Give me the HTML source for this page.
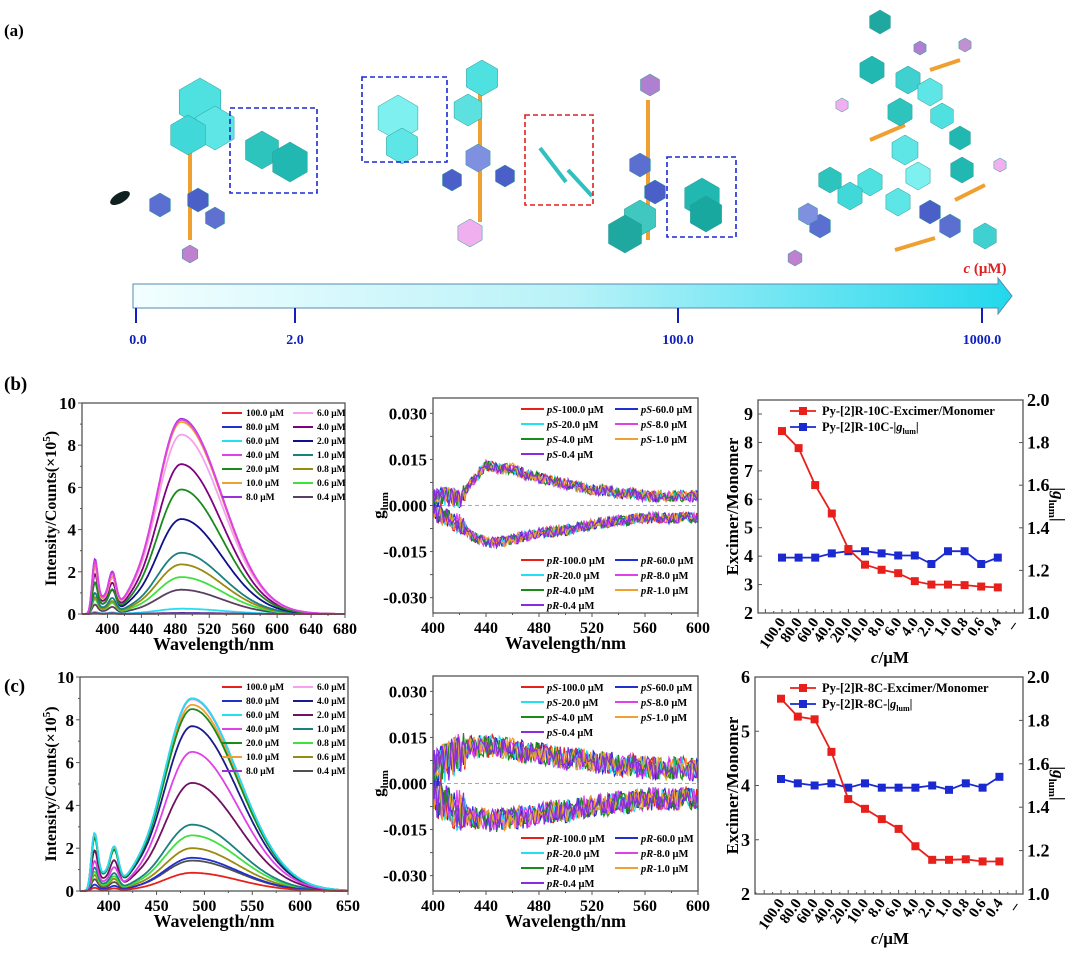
<!DOCTYPE html>
<html><head><meta charset="utf-8"><title>Py-[2]R concentration dependent emission</title>
<style>
html,body{margin:0;padding:0;background:#fff;}
svg{display:block;font-family:"Liberation Serif",serif;font-weight:bold;}
</style></head>
<body>
<svg id="fig" width="1080" height="957" viewBox="0 0 1080 957" xmlns="http://www.w3.org/2000/svg">
<defs>
<linearGradient id="arrowGrad" x1="0" x2="1" y1="0" y2="0">
<stop offset="0" stop-color="#f2feff"/><stop offset="0.5" stop-color="#b8f2f8"/><stop offset="1" stop-color="#22d8ec"/>
</linearGradient>
</defs>
<text x="4" y="36" font-size="17">(a)</text>
<text x="4" y="390" font-size="19">(b)</text>
<text x="4" y="692" font-size="19">(c)</text>
<g id="schem"></g>
<g>
<polygon points="133,284 998,284 998,278 1012,296 998,314 998,308 133,308" fill="url(#arrowGrad)" stroke="#5a8ab0" stroke-width="1"/>
<line x1="136" y1="308" x2="136" y2="323" stroke="#1020c0" stroke-width="2"/>
<line x1="295" y1="308" x2="295" y2="323" stroke="#1020c0" stroke-width="2"/>
<line x1="678" y1="308" x2="678" y2="323" stroke="#1020c0" stroke-width="2"/>
<line x1="982" y1="308" x2="982" y2="323" stroke="#1020c0" stroke-width="2"/>
<text x="138" y="344" text-anchor="middle" fill="#1020c0" font-size="14">0.0</text>
<text x="295" y="344" text-anchor="middle" fill="#1020c0" font-size="14">2.0</text>
<text x="678" y="344" text-anchor="middle" fill="#1020c0" font-size="14">100.0</text>
<text x="982" y="344" text-anchor="middle" fill="#1020c0" font-size="14">1000.0</text>
<text x="985" y="273" text-anchor="middle" fill="#e02020" font-size="15"><tspan font-style="italic">c</tspan> (μM)</text>
</g>
<g id="charts"></g>
</svg>
<script>
// ===== data =====
const concLabels = ['100.0','80.0','60.0','40.0','20.0','10.0','8.0','6.0','4.0','2.0','1.0','0.8','0.6','0.4'];
const bExcimer = [0.02,0.05,0.25,9.2,5.9,9.1,9.25,8.5,7.1,4.5,2.9,2.35,1.75,1.15];
const bMonomer = [0.03,0.05,0.1,2.5,1.5,2.3,2.6,2.2,1.9,1.5,1.0,0.8,0.7,0.45];
const cExcimer = [0.85,1.55,9.0,6.5,8.5,8.7,9.0,8.95,7.7,5.05,3.1,2.6,2.0,1.42];
const cMonomer = [0.15,0.3,2.7,1.4,2.5,2.6,2.7,2.7,2.6,1.9,1.1,0.9,0.75,0.55];
const ratioCats = ['100.0','80.0','60.0','40.0','20.0','10.0','8.0','6.0','4.0','2.0','1.0','0.8','0.6','0.4'];
const bRatio = [8.4,7.8,6.5,5.5,4.25,3.7,3.52,3.4,3.12,3.0,3.0,2.98,2.93,2.9];
const bGlum = [1.26,1.26,1.26,1.28,1.29,1.29,1.28,1.27,1.27,1.23,1.29,1.29,1.23,1.26];
const cRatio = [5.6,5.27,5.22,4.62,3.75,3.57,3.38,3.2,2.88,2.63,2.63,2.64,2.6,2.6];
const cGlum = [1.53,1.51,1.50,1.51,1.49,1.51,1.49,1.49,1.49,1.50,1.48,1.51,1.49,1.54];
const cdWl = [400,410,420,430,440,450,460,470,480,490,500,510,520,530,540,550,560,570,580,590,600];
const bPS = [0.002,0.003,0.002,0.008,0.013,0.012,0.012,0.010,0.009,0.008,0.007,0.006,0.005,0.005,0.004,0.004,0.003,0.003,0.003,0.003,0.003];
const bPR = [-0.002,-0.004,-0.006,-0.010,-0.012,-0.012,-0.011,-0.010,-0.009,-0.0085,-0.008,-0.007,-0.006,-0.0055,-0.005,-0.0045,-0.004,-0.004,-0.004,-0.004,-0.004];
const cPS = [0.004,0.007,0.010,0.012,0.012,0.012,0.011,0.010,0.010,0.009,0.008,0.008,0.007,0.007,0.006,0.006,0.005,0.005,0.005,0.005,0.004];
const cPR = [-0.004,-0.007,-0.009,-0.011,-0.012,-0.012,-0.011,-0.011,-0.010,-0.009,-0.009,-0.008,-0.007,-0.007,-0.006,-0.006,-0.005,-0.005,-0.005,-0.005,-0.005];
const cdLabels = ['100.0','60.0','20.0','8.0','4.0','1.0','0.4'];
const cdNoiseB = 0.0018, cdNoiseC = 0.0038;

const bColors = ['#e8201c','#1f2fd0','#22e0f0','#e040e8','#1a8a1a','#f0a030','#9a30d8','#f5a0f0','#800080','#10108a','#1a8080','#9a8a10','#40e040','#5a4060'];
const cColors = ['#e8201c','#1f2fd0','#22e0f0','#e040e8','#1a8a1a','#f0a030','#9a30d8','#f5a0f0','#1a1a8c','#701060','#1a8080','#40e040','#9a8a10','#505050'];
const cdColors = ['#e8201c','#1f2fd0','#22e0f0','#e040e8','#1a8a1a','#f0a030','#8a2be2'];

const NS='http://www.w3.org/2000/svg';
function mk(tag,parent,attrs){const e=document.createElementNS(NS,tag);for(const k in attrs)e.setAttribute(k,attrs[k]);parent.appendChild(e);return e;}
function lin(d0,d1,r0,r1){return v=>r0+(v-d0)*(r1-r0)/(d1-d0);}
const charts=document.getElementById('charts');

// ===== schematic decoration =====
(function(){
 const g=document.getElementById('schem');
 const boxes=[[230,108,87,85,'#1a2ad0'],[362,77,85,85,'#1a2ad0'],[525,115,68,90,'#e02020'],[667,157,69,80,'#1a2ad0']];
 const hexes=[[200,102,24,'#4fe0e0'],[215,128,22,'#5ee6e6'],[188,135,20,'#40d8d8'],[262,150,19,'#2cc4bc'],[290,162,20,'#20b8b0'],[160,205,12,'#5a6fd0'],[198,200,12,'#4a5fc8'],[215,218,11,'#6070d0'],[190,254,9,'#c080d0'],
 [398,118,23,'#7ff0f0'],[402,146,18,'#5ee6e6'],[482,78,18,'#4fe0e0'],[468,110,16,'#5de0e0'],[478,158,14,'#8090e0'],[452,180,11,'#4a5fc8'],[505,176,11,'#4a5fc8'],[470,233,14,'#f0b0f0'],
 [650,85,11,'#b080d0'],[640,165,12,'#5a6fd0'],[655,192,12,'#4a5fc8'],[640,218,18,'#40c8c0'],[625,234,19,'#1fa8a0'],[702,198,20,'#20b8b0'],[706,214,18,'#18a8a0'],
 [880,22,12,'#1fa8a0'],[872,70,14,'#20b8b0'],[908,80,14,'#40d0d0'],[930,92,14,'#5ee6e6'],[900,112,14,'#2cc4bc'],[942,116,13,'#4fe0e0'],[905,150,15,'#5ee6e6'],[918,176,14,'#7ff0f0'],[870,182,14,'#4fe0e0'],[850,196,14,'#40d8d8'],[830,180,13,'#2cc4bc'],[898,202,14,'#5ee6e6'],[962,170,13,'#20b8b0'],[985,236,13,'#40d0d0'],[950,226,12,'#5a6fd0'],[930,212,12,'#4a5fc8'],[820,226,12,'#5a6fd0'],[808,214,11,'#8090e0'],[795,258,8,'#c080d0'],[920,48,7,'#b080d0'],[965,45,7,'#c090d0'],[1000,165,7,'#f0b0f0'],[842,105,7,'#f0b0f0'],[960,138,12,'#20b8b0']];
 const ropes=[[190,110,190,240],[480,92,480,222],[648,100,648,240],[870,140,905,125],[895,250,935,238],[955,200,985,185],[930,70,960,60]];
 for(const r of ropes){const l=mk('line',g,{x1:r[0],y1:r[1],x2:r[2],y2:r[3],stroke:'#f0a030','stroke-width':4});
 
 }
 for(const h of hexes){let pts=[];for(let k=0;k<6;k++){const a=Math.PI/3*k+Math.PI/6;pts.push((h[0]+h[2]*Math.cos(a)).toFixed(1)+','+(h[1]+h[2]*Math.sin(a)).toFixed(1));}
 const p=mk('polygon',g,{points:pts.join(' '),fill:h[3],stroke:'#2a9a9a','stroke-width':0.5});
 
 }
 const bars=[[540,148,566,182],[568,170,592,196]];
 for(const b of bars){const l=mk('line',g,{x1:b[0],y1:b[1],x2:b[2],y2:b[3],stroke:'#30c0c0','stroke-width':4});
 
 }
 const bl=mk('ellipse',g,{cx:120,cy:198,rx:11,ry:5,fill:'#102020',transform:'rotate(-30 120 198)'});
 
 
 for(const b of boxes){const r=mk('rect',g,{x:b[0],y:b[1],width:b[2],height:b[3],fill:'none',stroke:b[4],'stroke-width':1.6,'stroke-dasharray':'5,3'});
 
 }
})();

// ===== shared axis helpers =====
function frame(g,x0,y0,x1,y1){const r=mk('rect',g,{x:x0,y:y0,width:x1-x0,height:y1-y0,fill:'none',stroke:'#555','stroke-width':1.3});
 
 }
function txt(g,x,y,s,size,anchor,extra){const t=mk('text',g,Object.assign({x:x,y:y,'font-size':size,'text-anchor':anchor||'middle'},extra||{}));t.textContent=s;return t;}

// ===== emission spectra =====
function specVal(l,E,M){
 const on=1/(1+Math.exp(-(l-378)/1.6));
 const mono=M/1.17*(Math.exp(-Math.pow((l-385)/3.3,2)/2)+0.66*Math.exp(-Math.pow((l-406)/4.3,2)/2)+0.32*Math.exp(-Math.pow((l-395)/9,2)/2)+0.1*Math.exp(-Math.pow((l-428)/10,2)/2));
 const s=l<487?29:48;
 return on*(mono+E*Math.exp(-Math.pow((l-487)/s,2)/2));
}
function drawSpectrum(cfg,exc,mon,colors,tag){
 const g=mk('g',charts,{});
 
 
 const X=lin(cfg.w0,cfg.w1,cfg.x0,cfg.x1), Y=lin(0,10,cfg.y1,cfg.y0);
 const plot=mk('g',g,{});
 for(let i=exc.length-1;i>=0;i--){let d='';
  for(let l=cfg.w0;l<=cfg.w1;l+=1){d+=(l===cfg.w0?'M':'L')+X(l).toFixed(1)+','+Y(specVal(l,exc[i],mon[i])).toFixed(1);}
  const p=mk('path',plot,{d:d,fill:'none',stroke:colors[i],'stroke-width':1.8});
  
  }
 frame(g,cfg.x0,cfg.y0,cfg.x1,cfg.y1);
 for(let v=0;v<=10;v+=1){const y=Y(v);mk('line',g,{x1:cfg.x0,y1:y,x2:cfg.x0-(v%2?2:4),y2:y,stroke:'#555'});
  if(v%2===0){const t=txt(g,cfg.x0-6,y+6,String(v),17,'end');
  
  }}
 for(let w=cfg.tick0;w<=cfg.w1;w+=cfg.step/2){const x=X(w),major=((w-cfg.tick0)%cfg.step)===0;
  mk('line',g,{x1:x,y1:cfg.y1,x2:x,y2:cfg.y1+(major?4:2),stroke:'#555'});
  if(major){const t=txt(g,x,cfg.y1+20,String(w),16);
  
  }}
 const xt=txt(g,(cfg.x0+cfg.x1)/2,cfg.y1+36,'Wavelength/nm',18);
 
 
 const cy=(cfg.y0+cfg.y1)/2;
 const yt=mk('text',g,{x:0,y:0,'font-size':16,'text-anchor':'middle',transform:'translate(56,'+cy+') rotate(-90)'});
 yt.innerHTML='Intensity/Counts(×10<tspan dy="-6" font-size="11">5</tspan><tspan dy="6">)</tspan>';
 
 
 for(let i=0;i<concLabels.length;i++){const col=i<7?0:1,row=i%7;
  const lx=col?293:222,ly=cfg.legY+row*14;
  const ln=mk('line',g,{x1:lx,y1:ly-3,x2:lx+20,y2:ly-3,stroke:colors[i],'stroke-width':2});
  
  
  const t=txt(g,lx+24,ly,concLabels[i]+' μM',9.5,'start');
  
  }
}
drawSpectrum({x0:82,x1:345,y0:403,y1:614,w0:370,w1:680,tick0:400,step:40,legY:416},bExcimer,bMonomer,bColors,'b');
drawSpectrum({x0:80,x1:348,y0:677,y1:891,w0:370,w1:650,tick0:400,step:50,legY:690},cExcimer,cMonomer,cColors,'c');

// ===== CPL (g_lum) =====
function interp(arr,l){const i=Math.min(cdWl.length-2,Math.floor((l-400)/10));const f=(l-cdWl[i])/10;return arr[i]*(1-f)+arr[i+1]*f;}
function texture(i,k){const s=Math.sin(i*12.9898+k*78.233)*43758.5453;return (s-Math.floor(s))*2-1;}
function drawCD(cfg,ps,pr,amp,tag){
 const g=mk('g',charts,{});
 
 
 const X=lin(400,600,cfg.x0,cfg.x1), Y=lin(-0.035,0.035,cfg.y1,cfg.y0);
 const z=mk('line',g,{x1:cfg.x0,y1:Y(0),x2:cfg.x1,y2:Y(0),stroke:'#aaa','stroke-dasharray':'4,3'});
 
 
 [ps,pr].forEach((env,gi)=>{
  for(let s=0;s<cdLabels.length;s++){let d='';
   for(let l=400;l<=600;l+=1){const early=l<425?1.8:1;const v=interp(env,l)+amp*early*texture(l,s+gi*11);
    d+=(l===400?'M':'L')+X(l).toFixed(1)+','+Y(v).toFixed(1);}
   const p=mk('path',g,{d:d,fill:'none',stroke:cdColors[s],'stroke-width':1.2});
   
   }
 });
 frame(g,cfg.x0,cfg.y0,cfg.x1,cfg.y1);
 const yt=[0.03,0.015,0,-0.015,-0.03];
 for(let v=-0.03;v<=0.0301;v+=0.0075){const y=Y(v);mk('line',g,{x1:cfg.x0,y1:y,x2:cfg.x0-3,y2:y,stroke:'#555'});}
 yt.forEach(v=>{const t=txt(g,cfg.x0-6,Y(v)+6,v.toFixed(3),17,'end');
  
  });
 for(let w=400;w<=600;w+=20){const x=X(w),major=w%40===0;mk('line',g,{x1:x,y1:cfg.y1,x2:x,y2:cfg.y1+(major?4:2),stroke:'#555'});
  if(major){const t=txt(g,x,cfg.y1+20,String(w),16);
  
  }}
 const xt=txt(g,(cfg.x0+cfg.x1)/2,cfg.y1+36,'Wavelength/nm',18);
 
 
 const yl=mk('text',g,{x:0,y:0,'font-size':17,'text-anchor':'middle',transform:'translate(384,'+Y(0)+') rotate(-90)'});
 yl.innerHTML='g<tspan dy="4" font-size="11">lum</tspan>';
 
 
 const order=[[0,1],[2,3],[4,5],[6,-1]];
 ['pS','pR'].forEach((pre,gi)=>{
  order.forEach((pair,row)=>{pair.forEach((s,col)=>{if(s<0)return;
   const lx=col?615:521,ly=(gi?cfg.legR:cfg.legS)+row*15;
   const ln=mk('line',g,{x1:lx,y1:ly-4,x2:lx+23,y2:ly-4,stroke:cdColors[s],'stroke-width':2});
   
   
   const t=mk('text',g,{x:lx+26,y:ly,'font-size':10.5});
   t.innerHTML='<tspan font-style="italic">'+pre+'</tspan>-'+cdLabels[s]+' μM';
   
   });});
 });
}
drawCD({x0:433,x1:698,y0:398,y1:613,legS:413,legR:564},bPS,bPR,cdNoiseB,'b');
drawCD({x0:433,x1:698,y0:676,y1:891,legS:691,legR:842},cPS,cPR,cdNoiseC,'c');

// ===== ratio / |g_lum| =====
function drawRatio(cfg,ratio,glum,tag){
 const g=mk('g',charts,{});
 
 
 const X=i=>cfg.c0+i*cfg.step, YL=lin(cfg.l0,cfg.l1,cfg.y1,cfg.lTop), YR=lin(1.0,2.0,cfg.y1,cfg.y0);
 frame(g,cfg.x0,cfg.y0,cfg.x1,cfg.y1);
 for(let v=cfg.l0;v<=cfg.l1;v++){const y=YL(v);mk('line',g,{x1:cfg.x0,y1:y,x2:cfg.x0+4,y2:y,stroke:'#555'});
  const t=txt(g,cfg.x0-5,y+6,String(v),18,'end');
  
  }
 for(let v=1.0;v<=2.001;v+=0.2){const y=YR(v);mk('line',g,{x1:cfg.x1,y1:y,x2:cfg.x1-4,y2:y,stroke:'#555'});
  const t=txt(g,cfg.x1+4,y+6,v.toFixed(1),18,'start');
  
  }
 for(let k=-3;k<=ratioCats.length*2+1;k++){const x=X(k/2);if(x<cfg.x0||x>cfg.x1)continue;
  mk('line',g,{x1:x,y1:cfg.y1,x2:x,y2:cfg.y1-(k%2?2:4),stroke:'#555'});}
 ratioCats.forEach((c,i)=>{const t=txt(g,X(i)+4,cfg.y1+9,c,15,'end',{transform:'rotate(-55 '+(X(i)+4)+' '+(cfg.y1+9)+')'});
  
  });
 const dash=txt(g,X(ratioCats.length)+4,cfg.y1+12,'–',15,'end',{transform:'rotate(-55 '+(X(ratioCats.length)+4)+' '+(cfg.y1+12)+')'});
 
 
 [[glum,YR,'#1a2ad0','glum-series'],[ratio,YL,'#e8201c','ratio-series']].forEach(([arr,Y,col,nm])=>{
  const d=arr.map((v,i)=>(i?'L':'M')+X(i).toFixed(1)+','+Y(v).toFixed(1)).join('');
  const p=mk('path',g,{d:d,fill:'none',stroke:col,'stroke-width':1.8});
  
  
  arr.forEach((v,i)=>{const r=mk('rect',g,{x:X(i)-4,y:Y(v)-4,width:8,height:8,fill:col});
   
   });
 });
 const leg=[['#e8201c','Py-[2]R-'+cfg.name+'-Excimer/Monomer'],['#1a2ad0',null]];
 leg.forEach(([col,s],k)=>{const y=cfg.legY+k*16;
  const l=mk('line',g,{x1:790,y1:y-4,x2:816,y2:y-4,stroke:col,'stroke-width':1.8});
  
  
  const r=mk('rect',g,{x:799,y:y-8,width:8,height:8,fill:col});
  
  
  const t=mk('text',g,{x:822,y:y,'font-size':12.5});
  if(s)t.textContent=s;else t.innerHTML='Py-[2]R-'+cfg.name+'-|<tspan font-style="italic">g</tspan><tspan dy="3" font-size="8">lum</tspan><tspan dy="-3">|</tspan>';
  
  });
 const yl=txt(g,0,0,'Excimer/Monomer',17,'middle',{transform:'translate(738,'+(cfg.y0+cfg.y1)/2+') rotate(-90)'});
 
 
 const yr=mk('text',g,{x:0,y:0,'font-size':17,'text-anchor':'middle',transform:'translate(1053,'+((cfg.y0+cfg.y1)/2-2)+') rotate(90)'});
 yr.innerHTML='|<tspan font-style="italic">g</tspan><tspan dy="4" font-size="11">lum</tspan><tspan dy="-4">|</tspan>';
 
 
 const xt=mk('text',g,{x:890,y:cfg.y1+50,'font-size':17,'text-anchor':'middle'});
 xt.innerHTML='<tspan font-style="italic">c</tspan>/μM';
 
 
}
drawRatio({x0:758,x1:1023,y0:400,y1:613,l0:2,l1:9,lTop:414,c0:782,step:16.6,legY:415,name:'10C'},bRatio,bGlum,'b');
drawRatio({x0:755,x1:1023,y0:677,y1:894,l0:2,l1:6,lTop:677,c0:781,step:16.8,legY:692,name:'8C'},cRatio,cGlum,'c');
</script>
</body></html>
